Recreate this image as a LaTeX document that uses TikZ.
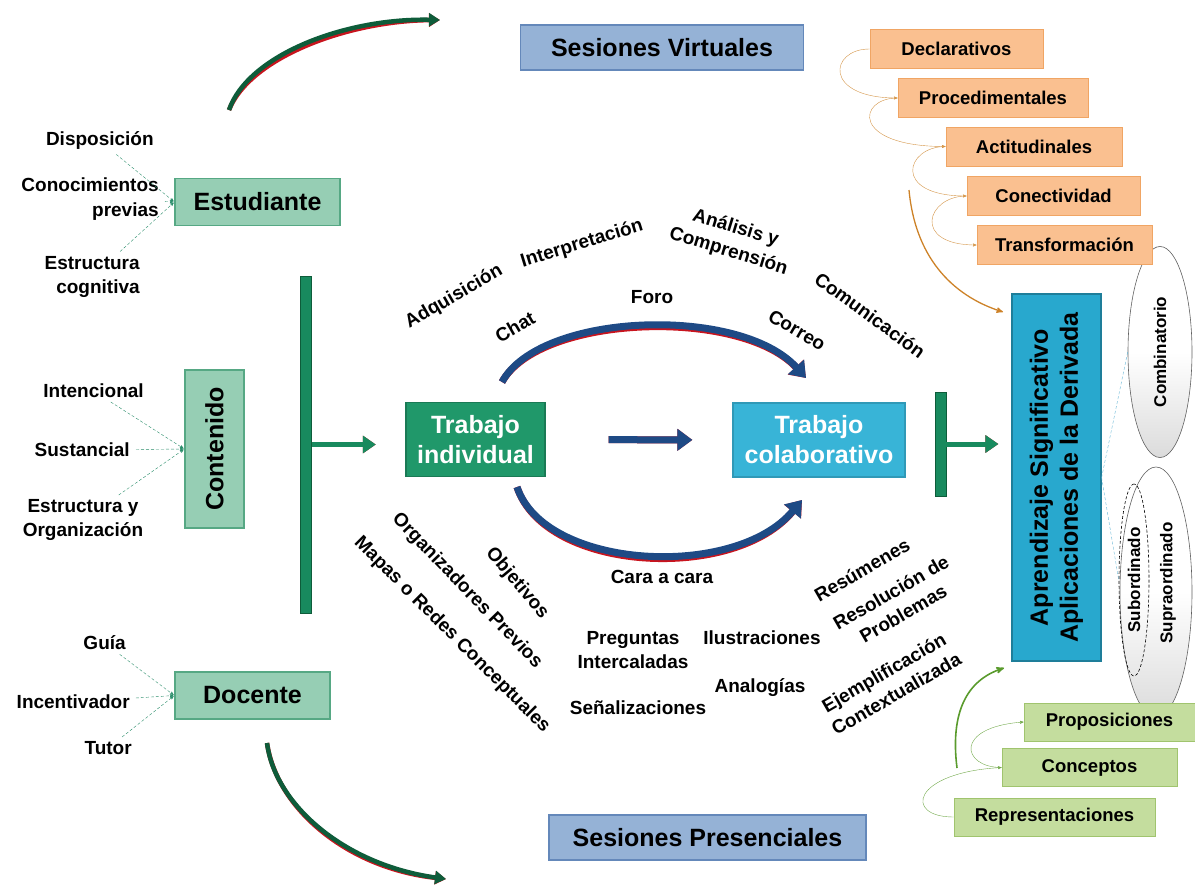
\documentclass[tikz,border=0pt]{standalone}
\usepackage{fontspec}
\setmainfont{Liberation Sans}
\usepackage{tikz}
\usetikzlibrary{shapes,arrows,arrows.meta,positioning}

\definecolor{verdeC}{RGB}{150,206,180}
\definecolor{verdeB}{RGB}{86,168,132}
\definecolor{verdeL}{RGB}{40,140,105}
\definecolor{verdeBar}{RGB}{24,138,94}
\definecolor{verdeO}{RGB}{14,92,58}
\definecolor{indiv}{RGB}{32,152,106}
\definecolor{colab}{RGB}{56,180,215}
\definecolor{aprendC}{RGB}{40,168,206}
\definecolor{sesionC}{RGB}{149,178,214}
\definecolor{sesionB}{RGB}{100,136,186}
\definecolor{naranjaC}{RGB}{250,192,144}
\definecolor{naranjaB}{RGB}{240,165,100}
\definecolor{naranjaO}{RGB}{205,130,40}
\definecolor{limaC}{RGB}{196,221,158}
\definecolor{limaB}{RGB}{160,196,110}
\definecolor{limaO}{RGB}{90,155,45}
\definecolor{azulO}{RGB}{30,74,133}
\definecolor{sombra}{RGB}{200,20,30}
\definecolor{celeste}{RGB}{100,180,212}

\begin{document}
\begin{tikzpicture}[x=1pt,y=-1pt,>=stealth',semithick]
\tikzstyle{lbl}=[font=\fontsize{19}{24.5}\selectfont\bfseries, align=center, inner sep=1pt]
\tikzstyle{caja}=[rectangle, draw=verdeB, fill=verdeC, line width=1.2pt, inner sep=0pt,
    font=\fontsize{25}{30}\selectfont\bfseries, minimum width=165pt, minimum height=47pt]
\tikzstyle{trabajo}=[rectangle, line width=1.2pt, inner sep=0pt, text=white, align=center,
    font=\fontsize{25}{30}\selectfont\bfseries, minimum height=74pt]
\tikzstyle{sesion}=[rectangle, draw=sesionB, fill=sesionC, line width=1.2pt, inner sep=0pt,
    font=\fontsize{25}{30}\selectfont\bfseries, minimum height=45pt]
\tikzstyle{naranja}=[rectangle, draw=naranjaB, fill=naranjaC, line width=1pt, inner sep=0pt,
    font=\fontsize{18.5}{22}\selectfont\bfseries, minimum height=39pt]
\tikzstyle{lima}=[rectangle, draw=limaB, fill=limaC, line width=1pt, inner sep=0pt,
    font=\fontsize{18.5}{22}\selectfont\bfseries, minimum height=38pt]
\tikzstyle{elipse}=[ellipse, draw=gray!75!black, top color=white, bottom color=gray!28,
    middle color=white, rotate=90, inner sep=0pt, font=\fontsize{17}{20}\selectfont\bfseries]
\tikzstyle{vbar}=[rectangle, fill=verdeBar, draw=verdeO, inner sep=0pt, minimum width=11pt]
\tikzstyle{guia}=[draw=verdeL, thin, densely dashed, ->, shorten <=5pt, shorten >=1pt]
\tikzstyle{oflecha}=[draw=naranjaO!85, thin, ->]
\tikzstyle{vflecha}=[draw=limaO!85, thin, ->]
\tikzstyle{barflecha}=[draw=verdeBar, line width=5pt, -{Triangle[width=17pt,length=13pt]}]
\tikzstyle{arco}=[draw=azulO, line width=7pt, -{Triangle[width=21pt,length=15pt]}]
\tikzstyle{arcoV}=[draw=verdeO, line width=4.5pt, -{Triangle[width=13pt,length=11pt]}]
\tikzstyle{rojo}=[draw=sombra, shift={(1.5,3)}]

\useasboundingbox (0,0) rectangle (1195,886);

% ellipses (behind the orange boxes)
\node[elipse, minimum width=211pt, minimum height=64pt] (comb) at (1160,352) {Combinatorio};
\node[elipse, minimum width=250pt, minimum height=72pt] (supra) at (1156,592) {};
\node[ellipse, draw=black, densely dashed, rotate=90, inner sep=0pt, minimum width=192pt,
    minimum height=30pt, font=\fontsize{17}{20}\selectfont\bfseries] (subo) at (1134,580) {Subordinado};
\node[lbl, rotate=90, font=\fontsize{17}{20}\selectfont\bfseries] (supratxt) at (1168,583) {Supraordinado};

% sesiones
\node[sesion, minimum width=283pt] (virt) at (662,47.5) {Sesiones Virtuales};
\node[sesion, minimum width=317pt] (pres) at (707.5,837.5) {Sesiones Presenciales};

% actores
\node[caja] (est) at (257.5,202) {Estudiante};
\node[caja, rotate=90, minimum width=158pt, minimum height=59pt] (cont) at (214.5,449) {Contenido};
\node[caja, minimum width=155pt] (doc) at (252.5,695.5) {Docente};

\node[lbl, anchor=east]              (disp)  at (155,141) {Disposición};
\node[lbl, anchor=east, align=right] (conoc) at (160,199) {Conocimientos\\previas};
\node[lbl, anchor=east, align=right] (estr)  at (141,277) {Estructura\\cognitiva};
\node[lbl, anchor=east]              (inten) at (145,391) {Intencional};
\node[lbl, anchor=east]              (sust)  at (131,450) {Sustancial};
\node[lbl]                           (orga)  at (83,520)  {Estructura y\\Organización};
\node[lbl, anchor=east]              (guia)  at (127,643) {Guía};
\node[lbl, anchor=east]              (incen) at (131,702) {Incentivador};
\node[lbl, anchor=east]              (tutor) at (133,748) {Tutor};

\path   (disp)  edge[guia] (est.west)
        (conoc) edge[guia] (est.west)
        (estr)  edge[guia] (est.west)
        (inten) edge[guia] (cont.north)
        (sust)  edge[guia] (cont.north)
        (orga)  edge[guia] (cont.north)
        (guia)  edge[guia] (doc.west)
        (incen) edge[guia] (doc.west)
        (tutor) edge[guia] (doc.west);

% green corner arcs
\coordinate (vIni) at (229,110);
\coordinate (vFin) at (440,20);
\coordinate (pIni) at (267,743);
\coordinate (pFin) at (446,879);
\draw[arcoV, rojo, draw=sombra] (vIni) .. controls (248,55) and (345,18) .. (vFin);
\draw[arcoV] (vIni) .. controls (248,55) and (345,18) .. (vFin);
\draw[arcoV, rojo, draw=sombra] (pIni) .. controls (275,805) and (345,865) .. (pFin);
\draw[arcoV] (pIni) .. controls (275,805) and (345,865) .. (pFin);

% bars
\node[vbar, minimum height=337pt] (barL) at (306,444.5) {};
\node[vbar, minimum height=104pt] (barR) at (940.5,444) {};

% trabajo
\node[trabajo, fill=indiv, draw=indiv!80!black, minimum width=139pt] (ind) at (475.5,439.5) {Trabajo\\individual};
\node[trabajo, fill=colab, draw=colab!85!black, minimum width=172pt] (col) at (819,440) {Trabajo\\colaborativo};

% aprendizaje
\node[rectangle, rotate=90, fill=aprendC, draw=aprendC!75!black, line width=1.2pt, inner sep=0pt,
    minimum width=367pt, minimum height=89pt, align=center,
    font=\fontsize{25}{30}\selectfont\bfseries] (aprend) at (1056.5,477.5)
    {Aprendizaje Significativo\\Aplicaciones de la Derivada};

\coordinate (tipL) at ([xshift=64pt]barL.east);
\draw[barflecha, rojo] (barL.east) -- (tipL);
\draw[barflecha] (barL.east) -- (tipL);
\draw[barflecha, rojo, shorten >=13pt] (barR.east) -- (aprend.north |- barR.east);
\draw[barflecha, shorten >=13pt] (barR.east) -- (aprend.north |- barR.east);

% blue arcs
\coordinate (aIni) at (502,382);
\coordinate (aFin) at (806,378);
\coordinate (bIni) at (517,487);
\coordinate (bFin) at (802,500);
\draw[arco, draw=sombra, shift={(0,2.5)}] (aIni) .. controls (540,312) and (740,305) .. (aFin);
\draw[arco] (aIni) .. controls (540,312) and (740,305) .. (aFin);
\draw[arco, draw=sombra, shift={(0,2.5)}] (bIni) .. controls (545,570) and (735,580) .. (bFin);
\draw[arco] (bIni) .. controls (545,570) and (735,580) .. (bFin);
\draw[arco, draw=sombra, shift={(0,3)}, shorten <=63pt, shorten >=40pt] (ind.east) -- (col.west);
\draw[arco, shorten <=63pt, shorten >=40pt] (ind.east) -- (col.west);

% labels around the centre
\node[lbl, rotate=30]  (adq)   at (454,297) {Adquisición};
\node[lbl, rotate=17]  (inter) at (582,244) {Interpretación};
\node[lbl, rotate=-17] (anal)  at (732,240) {Análisis y\\Comprensión};
\node[lbl, rotate=-36] (comu)  at (870,315) {Comunicación};
\node[lbl]             (foro)  at (652,297) {Foro};
\node[lbl, rotate=30]  (chat)  at (515,327) {Chat};
\node[lbl, rotate=-30] (corr)  at (797,330) {Correo};
\node[lbl]             (cara)  at (662,577) {Cara a cara};
\node[lbl, rotate=-50] (obj)   at (517,583) {Objetivos};
\node[lbl, rotate=-46] (orgp)  at (467,591) {Organizadores Previos};
\node[lbl, rotate=-45] (mapas) at (452,635) {Mapas o Redes Conceptuales};
\node[lbl]             (preg)  at (633,650) {Preguntas\\Intercaladas};
\node[lbl]             (ilus)  at (762,638) {Ilustraciones};
\node[lbl]             (senal) at (638,708) {Señalizaciones};
\node[lbl]             (analo) at (760,688) {Analogías};
\node[lbl, rotate=30]  (resu)  at (862,570) {Resúmenes};
\node[lbl, rotate=30]  (resol) at (897,603) {Resolución de\\Problemas};
\node[lbl, rotate=30]  (ejem)  at (890,683) {Ejemplificación\\Contextualizada};

% orange boxes
\node[naranja, minimum width=173pt] (decl)  at (956.5,49)  {Declarativos};
\node[naranja, minimum width=190pt] (proc)  at (993,98)    {Procedimentales};
\node[naranja, minimum width=176pt] (act)   at (1034,146.5) {Actitudinales};
\node[naranja, minimum width=173pt] (conec) at (1053.5,196) {Conectividad};
\node[naranja, minimum width=175pt] (trans) at (1064.5,245) {Transformación};

\draw[oflecha] (decl.west)  .. controls +(-40,0) and +(-75,0) .. (proc.west);
\draw[oflecha] (proc.west)  .. controls +(-40,0) and +(-95,0) .. (act.west);
\draw[oflecha] (act.west)   .. controls +(-40,0) and +(-75,0) .. (conec.west);
\draw[oflecha] (conec.west) .. controls +(-40,0) and +(-65,0) .. (trans.west);
\coordinate (oIni) at (909,190);
\coordinate (oFin) at (1003,312);
\draw[oflecha, draw=naranjaO, line width=1.3pt] (oIni) .. controls (915,255) and (950,295) .. (oFin);

% light green boxes
\node[lima, minimum width=171pt] (prop) at (1109.5,722)  {Proposiciones};
\node[lima, minimum width=175pt] (conc) at (1089.5,767.5) {Conceptos};
\node[lima, minimum width=201pt] (rep)  at (1054.5,817)  {Representaciones};

\draw[vflecha] (rep.west)  .. controls +(-50,0) and +(-90,5) .. (conc.west);
\draw[vflecha] (conc.west) .. controls +(-40,0) and +(-70,5) .. (prop.west);
\coordinate (gIni) at (957,768);
\coordinate (gFin) at (1004,668);
\draw[vflecha, draw=limaO, line width=1.6pt] (gIni) .. controls (950,712) and (967,680) .. (gFin);

% links to the ellipses
\draw[celeste, densely dashed, thin] (aprend.south) -- (comb.north);
\draw[celeste, densely dashed, thin] (aprend.south) -- (subo.north);

\end{tikzpicture}
\end{document}
